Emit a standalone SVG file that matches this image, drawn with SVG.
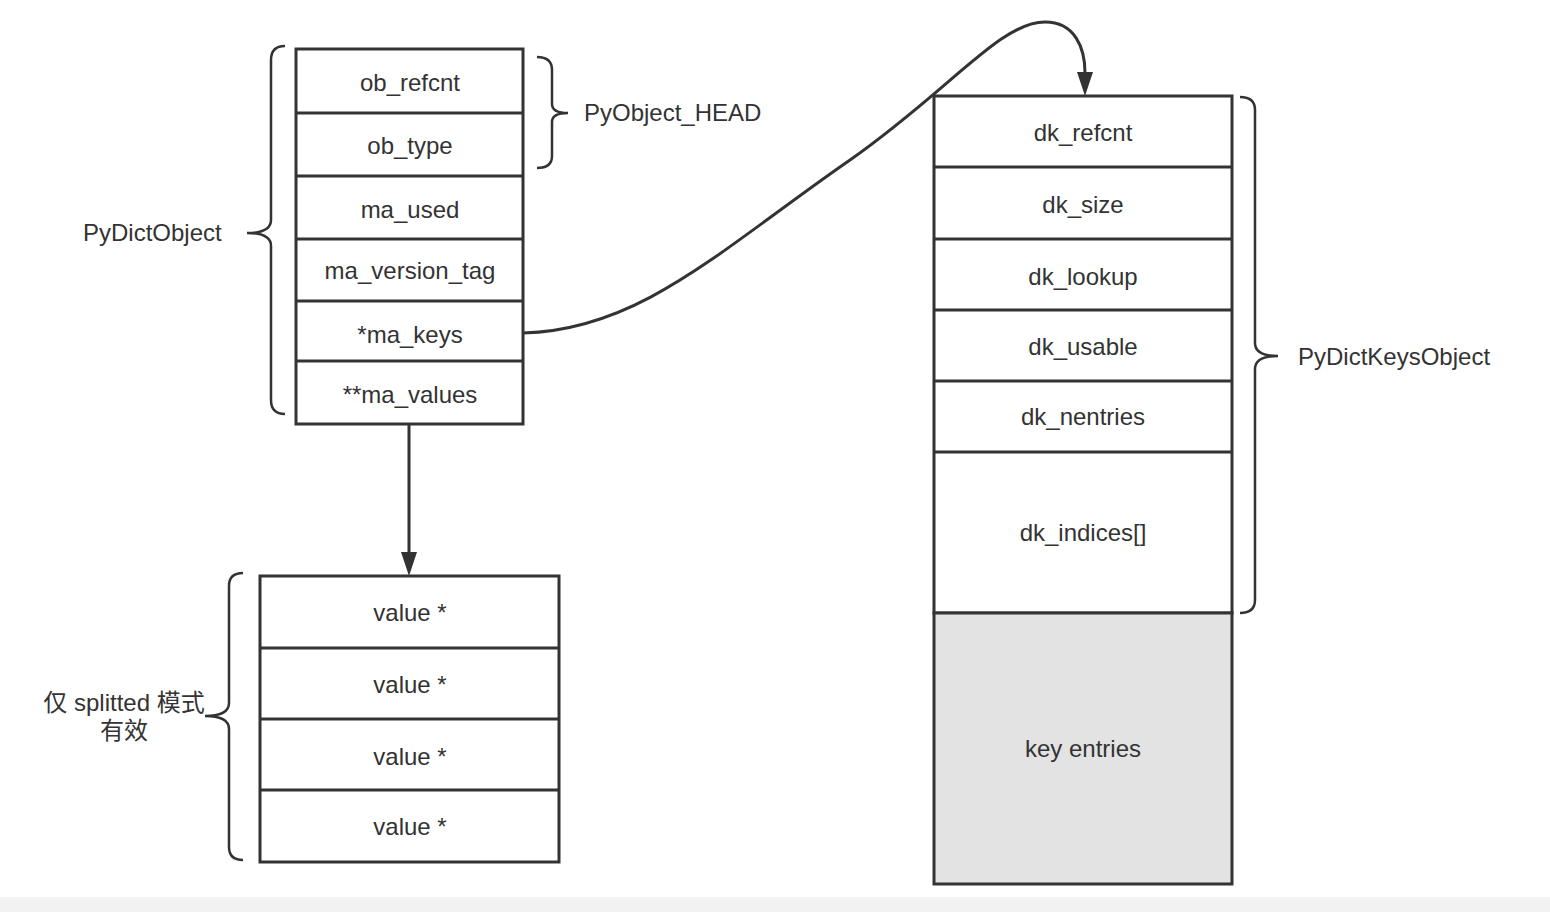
<svg xmlns="http://www.w3.org/2000/svg" width="1550" height="912" viewBox="0 0 1550 912">
<style>
.box{fill:#fff;stroke:#333;stroke-width:3}
.gray{fill:#e3e3e3;stroke:#333;stroke-width:3}
.ln{stroke:#333;stroke-width:3;fill:none}
.br{stroke:#333;stroke-width:2.5;fill:none}
text{font-family:"Liberation Sans","Noto Sans CJK SC",sans-serif;font-size:24px;fill:#333;text-anchor:middle;dominant-baseline:central}
.l{text-anchor:start}
</style>
<defs>
<marker id="ah" markerWidth="24" markerHeight="16" refX="1" refY="8" orient="auto" markerUnits="userSpaceOnUse" viewBox="0 0 24 16">
<path d="M0,0 L24,8 L0,16 Z" fill="#333"/>
</marker>
</defs>
<rect x="0" y="897" width="1550" height="15" fill="#f2f2f2"/>
<g id="pydictobject">
<rect class="box" x="296" y="49" width="227" height="375"/>
<line class="ln" x1="296" y1="113" x2="523" y2="113"/>
<line class="ln" x1="296" y1="176" x2="523" y2="176"/>
<line class="ln" x1="296" y1="239" x2="523" y2="239"/>
<line class="ln" x1="296" y1="301" x2="523" y2="301"/>
<line class="ln" x1="296" y1="361" x2="523" y2="361"/>
<text x="410" y="82">ob_refcnt</text>
<text x="410" y="145">ob_type</text>
<text x="410" y="209">ma_used</text>
<text x="410" y="270">ma_version_tag</text>
<text x="410" y="334">*ma_keys</text>
<text x="410" y="394">**ma_values</text>
</g>
<g id="values">
<rect class="box" x="260" y="576" width="299" height="286"/>
<line class="ln" x1="260" y1="648" x2="559" y2="648"/>
<line class="ln" x1="260" y1="719" x2="559" y2="719"/>
<line class="ln" x1="260" y1="790" x2="559" y2="790"/>
<text x="410" y="612">value *</text>
<text x="410" y="684">value *</text>
<text x="410" y="756">value *</text>
<text x="410" y="826">value *</text>
</g>
<g id="pydictkeysobject">
<rect class="box" x="934" y="96" width="298" height="517"/>
<rect class="gray" x="934" y="613" width="298" height="271"/>
<line class="ln" x1="934" y1="167" x2="1232" y2="167"/>
<line class="ln" x1="934" y1="239" x2="1232" y2="239"/>
<line class="ln" x1="934" y1="310" x2="1232" y2="310"/>
<line class="ln" x1="934" y1="381" x2="1232" y2="381"/>
<line class="ln" x1="934" y1="452" x2="1232" y2="452"/>
<text x="1083" y="132">dk_refcnt</text>
<text x="1083" y="204">dk_size</text>
<text x="1083" y="276">dk_lookup</text>
<text x="1083" y="346">dk_usable</text>
<text x="1083" y="416">dk_nentries</text>
<text x="1083" y="532">dk_indices[]</text>
<text x="1083" y="748">key entries</text>
</g>
<g id="brace-pydictobject">
<path class="br" d="M285,46 Q271,46 271,60 L271,220 Q271,233 247,233 Q271,233 271,246 L271,400 Q271,414 285,414"/>
<text class="l" x="83" y="232">PyDictObject</text>
</g>
<g id="brace-head">
<path class="br" d="M537,57 Q552,57 552,70 L552,104 Q552,113 568,113 Q552,113 552,122 L552,156 Q552,168 537,168"/>
<text class="l" x="584" y="112">PyObject_HEAD</text>
</g>
<g id="brace-keys">
<path class="br" d="M1240,97 Q1255,97 1255,110 L1255,343 Q1255,356 1278,356 Q1255,356 1255,369 L1255,600 Q1255,613 1240,613"/>
<text class="l" x="1298" y="356">PyDictKeysObject</text>
</g>
<g id="brace-values">
<path class="br" d="M243,573 Q229,573 229,586 L229,703 Q229,716 205,716 Q229,716 229,729 L229,847 Q229,860 243,860"/>
<text x="124" y="702">仅 splitted 模式</text>
<text x="124" y="730">有效</text>
</g>
<g id="connectors">
<path class="ln" d="M523,333 C640,330 720,250 850,160 C950,90 1000,22 1045,22 C1075,22 1085,48 1085,73" marker-end="url(#ah)"/>
<line class="ln" x1="409" y1="424" x2="409" y2="553" marker-end="url(#ah)"/>
</g>
</svg>
